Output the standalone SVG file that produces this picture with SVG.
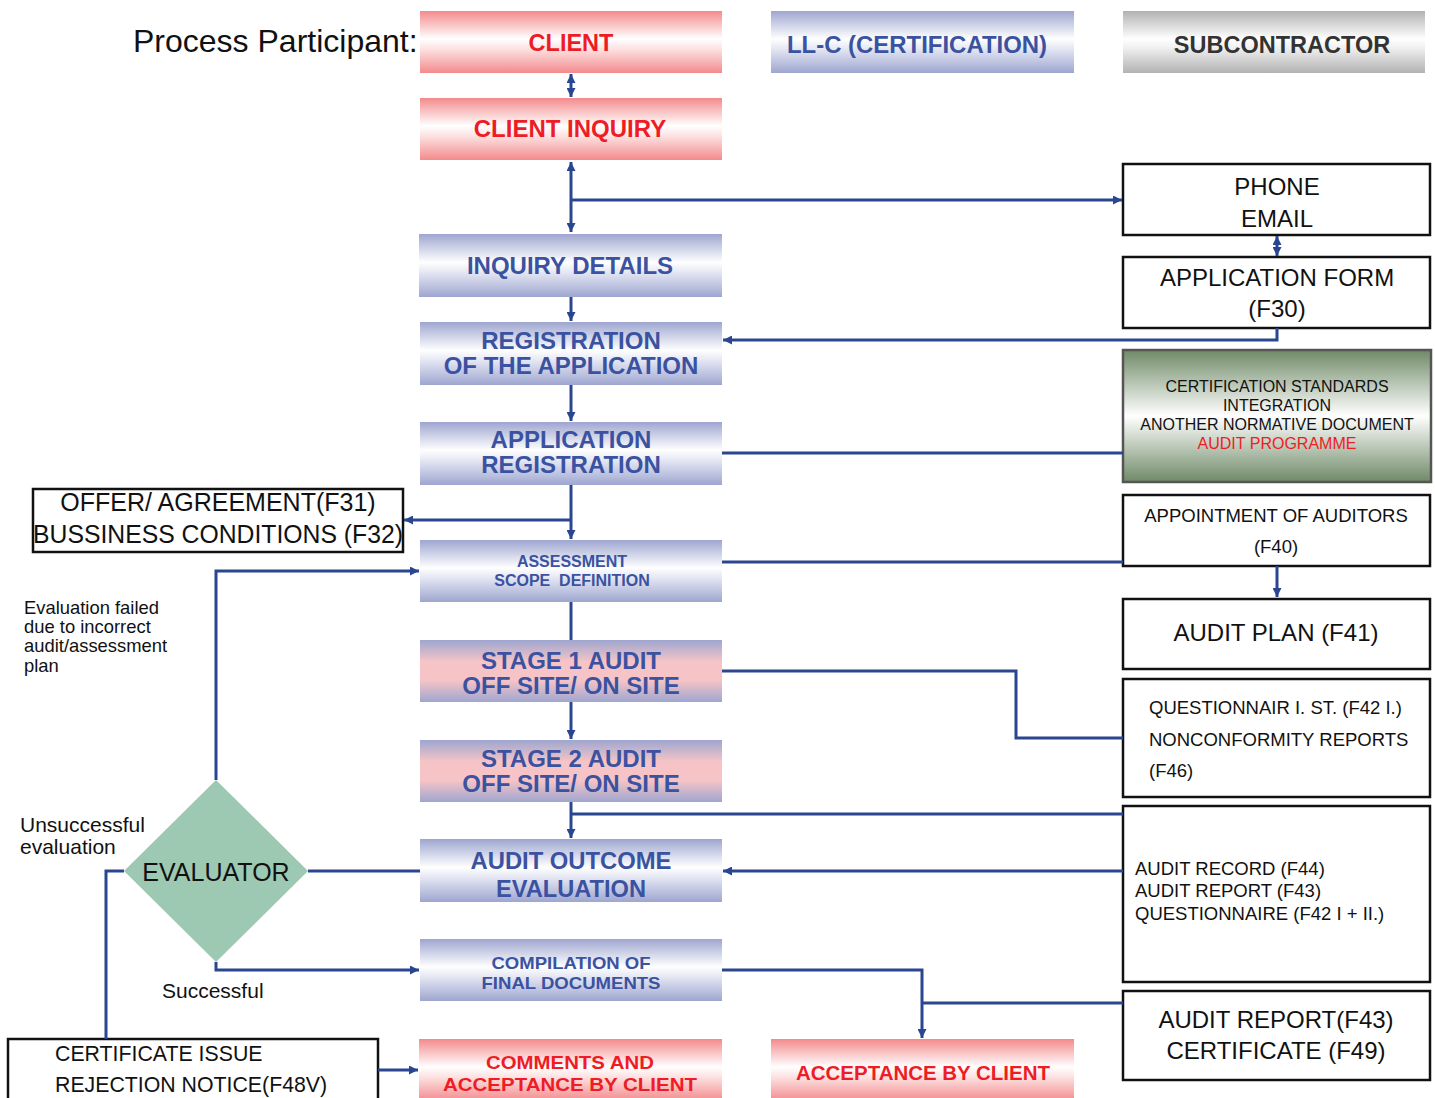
<svg xmlns="http://www.w3.org/2000/svg" width="1435" height="1098" viewBox="0 0 1435 1098">
<defs>
<linearGradient id="gBlue" x1="0" y1="0" x2="0" y2="1">
<stop offset="0" stop-color="#9ea6d0"/><stop offset="0.45" stop-color="#ffffff"/><stop offset="0.6" stop-color="#e6e8f4"/><stop offset="1" stop-color="#9ea6d0"/>
</linearGradient>
<linearGradient id="gRed" x1="0" y1="0" x2="0" y2="1">
<stop offset="0" stop-color="#f48a8c"/><stop offset="0.45" stop-color="#ffffff"/><stop offset="0.6" stop-color="#fde4e4"/><stop offset="1" stop-color="#f48a8c"/>
</linearGradient>
<linearGradient id="gGray" x1="0" y1="0" x2="0" y2="1">
<stop offset="0" stop-color="#b2b2b2"/><stop offset="0.45" stop-color="#ffffff"/><stop offset="0.6" stop-color="#efefef"/><stop offset="1" stop-color="#b2b2b2"/>
</linearGradient>
<linearGradient id="gStage" x1="0" y1="0" x2="0" y2="1">
<stop offset="0" stop-color="#9ea6d0"/><stop offset="0.35" stop-color="#f6c4c6"/><stop offset="0.65" stop-color="#f6c4c6"/><stop offset="1" stop-color="#9ea6d0"/>
</linearGradient>
<linearGradient id="gGreen" x1="0" y1="0" x2="0" y2="1">
<stop offset="0" stop-color="#6f8a67"/><stop offset="0.5" stop-color="#ffffff"/><stop offset="1" stop-color="#6f8a67"/>
</linearGradient>
<marker id="ah" viewBox="0 0 10 10" refX="10" refY="5" markerWidth="9" markerHeight="9" markerUnits="userSpaceOnUse" orient="auto-start-reverse">
<path d="M0,0 L10,5 L0,10 z" fill="#2b4690"/>
</marker>
<style>
.b{font-family:"Liberation Sans",Arial,sans-serif;font-weight:bold;text-anchor:middle;fill:#3a52a0}
.r{font-family:"Liberation Sans",Arial,sans-serif;font-weight:bold;text-anchor:middle;fill:#ee1c25}
.t{font-family:"Liberation Sans",Arial,sans-serif;fill:#111}
.c{text-anchor:middle}
.box{fill:#fff;stroke:#111;stroke-width:2.5}
.ln{fill:none;stroke:#2b4690;stroke-width:3}
.arr{marker-end:url(#ah)}
.dbl{marker-start:url(#ah);marker-end:url(#ah)}
</style>
</defs>

<text class="t" x="133" y="52" font-size="32">Process Participant:</text>

<g id="client"><rect x="420" y="11" width="302" height="62" fill="url(#gRed)"/><text class="r" x="571" y="51" font-size="23.5">CLIENT</text></g>
<g id="llc"><rect x="771" y="11" width="303" height="62" fill="url(#gBlue)"/><text class="b" x="917" y="53" font-size="23" textLength="260" lengthAdjust="spacingAndGlyphs">LL-C (CERTIFICATION)</text></g>
<g id="subcontractor"><rect x="1123" y="11" width="302" height="62" fill="url(#gGray)"/><text class="b" x="1282" y="53" font-size="23.5" style="fill:#333">SUBCONTRACTOR</text></g>

<g id="client-inquiry"><rect x="420" y="98" width="302" height="62" fill="url(#gRed)"/><text class="r" x="570" y="137" font-size="24">CLIENT INQUIRY</text></g>
<g id="inquiry-details"><rect x="419" y="234" width="303" height="63" fill="url(#gBlue)"/><text class="b" x="570" y="274" font-size="24">INQUIRY DETAILS</text></g>
<g id="registration"><rect x="420" y="322" width="302" height="63" fill="url(#gBlue)"/><text class="b" x="571" y="349" font-size="24">REGISTRATION</text><text class="b" x="571" y="374" font-size="24">OF THE APPLICATION</text></g>
<g id="app-registration"><rect x="420" y="422" width="302" height="63" fill="url(#gBlue)"/><text class="b" x="571" y="448" font-size="24">APPLICATION</text><text class="b" x="571" y="473" font-size="24">REGISTRATION</text></g>
<g id="assessment"><rect x="420" y="540" width="302" height="62" fill="url(#gBlue)"/><text class="b" x="572" y="567" font-size="16">ASSESSMENT</text><text class="b" x="572" y="586" font-size="16">SCOPE&#160; DEFINITION</text></g>
<g id="stage1"><rect x="420" y="640" width="302" height="62" fill="url(#gStage)"/><text class="b" x="571" y="669" font-size="24">STAGE 1 AUDIT</text><text class="b" x="571" y="694" font-size="24">OFF SITE/ ON SITE</text></g>
<g id="stage2"><rect x="420" y="740" width="302" height="62" fill="url(#gStage)"/><text class="b" x="571" y="767" font-size="24">STAGE 2 AUDIT</text><text class="b" x="571" y="792" font-size="24">OFF SITE/ ON SITE</text></g>
<g id="audit-outcome"><rect x="420" y="839" width="302" height="63" fill="url(#gBlue)"/><text class="b" x="571" y="869" font-size="24" textLength="201" lengthAdjust="spacingAndGlyphs">AUDIT OUTCOME</text><text class="b" x="571" y="897" font-size="24" textLength="150" lengthAdjust="spacingAndGlyphs">EVALUATION</text></g>
<g id="compilation"><rect x="420" y="939" width="302" height="62" fill="url(#gBlue)"/><text class="b" x="571" y="969" font-size="17" textLength="159" lengthAdjust="spacingAndGlyphs">COMPILATION OF</text><text class="b" x="571" y="989" font-size="17" textLength="179" lengthAdjust="spacingAndGlyphs">FINAL DOCUMENTS</text></g>
<g id="comments"><rect x="419" y="1039" width="303" height="62" fill="url(#gRed)"/><text class="r" x="570" y="1069" font-size="19" textLength="168" lengthAdjust="spacingAndGlyphs">COMMENTS AND</text><text class="r" x="570" y="1091" font-size="19" textLength="254" lengthAdjust="spacingAndGlyphs">ACCEPTANCE BY CLIENT</text></g>
<g id="acceptance"><rect x="771" y="1039" width="303" height="62" fill="url(#gRed)"/><text class="r" x="923" y="1080" font-size="20" textLength="254" lengthAdjust="spacingAndGlyphs">ACCEPTANCE BY CLIENT</text></g>

<g id="phone-email"><rect class="box" x="1123" y="164" width="307" height="71"/><text class="t c" x="1277" y="195" font-size="24">PHONE</text><text class="t c" x="1277" y="227" font-size="24">EMAIL</text></g>
<g id="application-form"><rect class="box" x="1123" y="257" width="307" height="71"/><text class="t c" x="1277" y="286" font-size="24">APPLICATION FORM</text><text class="t c" x="1277" y="317" font-size="24">(F30)</text></g>
<g id="standards"><rect x="1123" y="350" width="308" height="132" fill="url(#gGreen)" stroke="#555" stroke-width="2.5"/><text class="t c" x="1277" y="392" font-size="16">CERTIFICATION STANDARDS</text><text class="t c" x="1277" y="411" font-size="16">INTEGRATION</text><text class="t c" x="1277" y="430" font-size="16">ANOTHER NORMATIVE DOCUMENT</text><text class="t c" x="1277" y="449" font-size="16" style="fill:#ee1c25">AUDIT PROGRAMME</text></g>
<g id="appointment"><rect class="box" x="1123" y="495" width="307" height="71"/><text class="t c" x="1276" y="522" font-size="18.5">APPOINTMENT OF AUDITORS</text><text class="t c" x="1276" y="553" font-size="18.5">(F40)</text></g>
<g id="audit-plan"><rect class="box" x="1123" y="599" width="307" height="70"/><text class="t c" x="1276" y="641" font-size="24">AUDIT PLAN (F41)</text></g>
<g id="questionnair"><rect class="box" x="1123" y="679" width="307" height="118"/><text class="t" x="1149" y="714" font-size="18.5">QUESTIONNAIR I. ST. (F42 I.)</text><text class="t" x="1149" y="746" font-size="18.5">NONCONFORMITY REPORTS</text><text class="t" x="1149" y="777" font-size="18.5">(F46)</text></g>
<g id="audit-record"><rect class="box" x="1123" y="806" width="307" height="176"/><text class="t" x="1135" y="875" font-size="18.5">AUDIT RECORD (F44)</text><text class="t" x="1135" y="897" font-size="18.5">AUDIT REPORT (F43)</text><text class="t" x="1135" y="920" font-size="18.5">QUESTIONNAIRE (F42 I + II.)</text></g>
<g id="audit-report"><rect class="box" x="1123" y="991" width="307" height="89"/><text class="t c" x="1276" y="1028" font-size="24">AUDIT REPORT(F43)</text><text class="t c" x="1276" y="1059" font-size="24">CERTIFICATE (F49)</text></g>

<g id="offer"><rect class="box" x="33" y="489" width="370" height="63"/><text class="t c" x="218" y="511" font-size="25">OFFER/ AGREEMENT(F31)</text><text class="t c" x="218" y="543" font-size="25" textLength="370" lengthAdjust="spacingAndGlyphs">BUSSINESS CONDITIONS (F32)</text></g>
<g id="certificate"><rect class="box" x="8" y="1039" width="370" height="70"/><text class="t" x="55" y="1061" font-size="21.3">CERTIFICATE ISSUE</text><text class="t" x="55" y="1092" font-size="21.3">REJECTION NOTICE(F48V)</text></g>

<g id="evaluator"><polygon points="216,780 308,871 216,962 124,871" fill="#9dc8b1"/><text class="t c" x="216" y="881" font-size="25">EVALUATOR</text></g>

<g id="labels">
<text class="t" font-size="18.4"><tspan x="24" y="614">Evaluation failed</tspan><tspan x="24" y="633">due to incorrect</tspan><tspan x="24" y="652">audit/assessment</tspan><tspan x="24" y="672">plan</tspan></text>
<text class="t" font-size="21"><tspan x="20" y="832">Unsuccessful</tspan><tspan x="20" y="854">evaluation</tspan></text>
<text class="t" x="162" y="998" font-size="21">Successful</text>
</g>

<g id="connectors">
<line class="ln dbl" x1="571" y1="74" x2="571" y2="97"/>
<line class="ln dbl" x1="571" y1="162" x2="571" y2="232"/>
<polyline class="ln arr" points="571,200 1122,200"/>
<line class="ln arr" x1="571" y1="297" x2="571" y2="321"/>
<polyline class="ln arr" points="1277,328 1277,340 723,340"/>
<line class="ln arr" x1="571" y1="385" x2="571" y2="421"/>
<line class="ln" x1="722" y1="453" x2="1123" y2="453"/>
<line class="ln arr" x1="571" y1="485" x2="571" y2="539"/>
<polyline class="ln arr" points="571,520 404,520"/>
<polyline class="ln arr" points="216,780 216,571 419,571"/>
<line class="ln" x1="722" y1="562" x2="1123" y2="562"/>
<line class="ln" x1="571" y1="602" x2="571" y2="640"/>
<polyline class="ln" points="722,671 1016,671 1016,738 1123,738"/>
<line class="ln arr" x1="571" y1="702" x2="571" y2="739"/>
<line class="ln arr" x1="571" y1="802" x2="571" y2="838"/>
<polyline class="ln" points="571,814 1123,814"/>
<polyline class="ln arr" points="1123,871 723,871"/>
<line class="ln" x1="308" y1="871" x2="420" y2="871"/>
<polyline class="ln arr" points="216,962 216,970 419,970"/>
<polyline class="ln arr" points="722,970 922,970 922,1038"/>
<polyline class="ln" points="922,1003 1123,1003"/>
<polyline class="ln" points="124,871 106,871 106,1039"/>
<polyline class="ln arr" points="378,1070 418,1070"/>
<line class="ln dbl" x1="1277" y1="236" x2="1277" y2="256"/>
<line class="ln arr" x1="1277" y1="566" x2="1277" y2="597"/>
</g>
</svg>
